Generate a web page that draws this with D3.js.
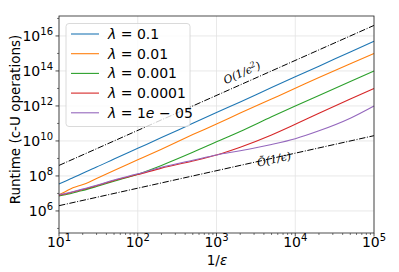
<!DOCTYPE html>
<html>
<head>
<meta charset="utf-8">
<script src="https://cdn.jsdelivr.net/npm/d3@7"></script>
<style>
  body { margin: 0; background: #fff; }
  svg { display: block; }
  text { font-family: "DejaVu Sans", sans-serif; fill: #000; }
</style>
</head>
<body>
<svg id="chart" width="399" height="272"></svg>
<script>
// 1/epsilon sample points
const invEps = [10, 12, 15, 18, 22, 30, 50, 100, 200, 500, 1000, 2000, 5000, 1e4, 2e4, 5e4, 1e5];

// runtime per lambda
const lambdaLabels = ["0.1", "0.01", "0.001", "0.0001", "1e\u2212 05"];
const colors = ["#1f77b4", "#ff7f0e", "#2ca02c", "#d62728", "#9467bd"];
const run01 = [3.5e7, 5.0e7, 7.9e7, 1.15e8, 1.74e8, 3.2e8, 9.3e8, 3.8e9, 1.55e10, 1.02e11, 4.2e11, 1.7e12, 1.12e13, 4.6e13, 1.86e14, 1.23e15, 5.0e15];
const run001 = [8.5e6, 1.26e7, 2.14e7, 2.75e7, 3.7e7, 7.1e7, 2.04e8, 8.3e8, 3.4e9, 2.3e10, 9.3e10, 3.9e11, 2.5e12, 1.02e13, 4.2e13, 2.6e14, 1.0e15];
const run0001 = [7.1e6, 8.5e6, 1.07e7, 1.32e7, 1.66e7, 2.5e7, 5.0e7, 1.26e8, 4.0e8, 2.24e9, 8.9e9, 3.5e10, 2.4e11, 1.0e12, 4.0e12, 2.5e13, 1.0e14];
const run00001 = [7.9e6, 9.3e6, 1.2e7, 1.48e7, 1.86e7, 2.75e7, 5.5e7, 1.2e8, 2.8e8, 7.1e8, 1.58e9, 4.4e9, 2.2e10, 8.9e10, 3.8e11, 2.5e12, 1.0e13];
const run1e5 = [8.5e6, 1.0e7, 1.26e7, 1.58e7, 2.0e7, 2.95e7, 5.9e7, 1.32e8, 3.16e8, 7.9e8, 1.58e9, 2.75e9, 6.3e9, 1.35e10, 3.8e10, 2.0e11, 1.0e12];

// reference scalings
const guideX = [10, 1e5];
const guideSq = [4.0e8, 4.0e16];
const guideLin = [2.0e6, 2.0e10];

const xTicks = [1e1, 1e2, 1e3, 1e4, 1e5];
const yTicks = [1e6, 1e8, 1e10, 1e12, 1e14, 1e16];

const series = [run01, run001, run0001, run00001, run1e5];

const svg = d3.select("#chart");
const m = {left: 59, right: 374, top: 16, bottom: 233};

const x = d3.scaleLog().domain([10, 1e5]).range([m.left, m.right]);
const y = d3.scaleLog().domain([Math.pow(10, 4.74), Math.pow(10, 17.14)]).range([m.bottom, m.top]);

// grid
const grid = svg.append("g");
grid.selectAll("line.gx").data(xTicks).join("line")
    .attr("x1", d => x(d)).attr("x2", d => x(d))
    .attr("y1", m.top).attr("y2", m.bottom)
    .attr("stroke", "#e3e3e3").attr("stroke-width", 0.8);
grid.selectAll("line.gy").data(yTicks).join("line")
    .attr("y1", d => y(d)).attr("y2", d => y(d))
    .attr("x1", m.left).attr("x2", m.right)
    .attr("stroke", "#e3e3e3").attr("stroke-width", 0.8);

const line = d3.line()
    .x((d, i) => x(invEps[i]))
    .y(d => y(d))
    .curve(d3.curveMonotoneX);

const plot = svg.append("g");

// guide lines (dash-dot)
const guide = d3.line().x((d, i) => x(guideX[i])).y(d => y(d));
[guideSq, guideLin].forEach(g => {
    plot.append("path")
        .attr("d", guide(g))
        .attr("fill", "none")
        .attr("stroke", "#000")
        .attr("stroke-width", 1)
        .attr("stroke-dasharray", "6.4,1.6,1,1.6");
});

series.forEach((s, i) => {
    plot.append("path")
        .attr("d", line(s))
        .attr("fill", "none")
        .attr("stroke", colors[i])
        .attr("stroke-width", 1.1);
});

// annotations
const annot = (xv, yv, slopeDec, label) => {
    const dx = x(xv * 10) - x(xv);
    const dy = y(yv * Math.pow(10, slopeDec)) - y(yv);
    const ang = Math.atan2(dy, dx) * 180 / Math.PI;
    svg.append("text")
        .attr("transform", `translate(${x(xv)},${y(yv)}) rotate(${ang})`)
        .attr("text-anchor", "middle")
        .style("font-family", "'DejaVu Serif', serif")
        .style("font-style", "italic")
        .style("font-size", "11px")
        .html(label);
};
annot(2200, 5e13, 2, "O(1/\u03f5<tspan dy='-4' font-size='8px'>2</tspan><tspan dy='4'>)</tspan>");
annot(5500, 5.5e8, 1, "\u00d5(1/\u03f5)");

// axes spines
svg.append("rect")
    .attr("x", m.left).attr("y", m.top)
    .attr("width", m.right - m.left).attr("height", m.bottom - m.top)
    .attr("fill", "none").attr("stroke", "#222").attr("stroke-width", 0.8);

// x ticks
const xMinor = [];
for (let e = 1; e < 5; e++) for (let k = 2; k <= 9; k++) xMinor.push(k * Math.pow(10, e));
svg.append("g").selectAll("line").data(xMinor).join("line")
    .attr("x1", d => x(d)).attr("x2", d => x(d))
    .attr("y1", m.bottom).attr("y2", m.bottom + 2)
    .attr("stroke", "#222").attr("stroke-width", 0.6);
svg.append("g").selectAll("line").data(xTicks).join("line")
    .attr("x1", d => x(d)).attr("x2", d => x(d))
    .attr("y1", m.bottom).attr("y2", m.bottom + 3.5)
    .attr("stroke", "#222").attr("stroke-width", 0.8);
const xl = svg.append("g").selectAll("text").data(xTicks).join("text")
    .attr("x", d => x(d)).attr("y", 247)
    .attr("text-anchor", "middle")
    .style("font-size", "14px");
xl.append("tspan").text("10");
xl.append("tspan").attr("dy", -6).style("font-size", "10px").text(d => Math.round(Math.log10(d)));

// y ticks
const yMinor = [1e5, 1e7, 1e9, 1e11, 1e13, 1e15, 1e17];
svg.append("g").selectAll("line").data(yMinor).join("line")
    .attr("y1", d => y(d)).attr("y2", d => y(d))
    .attr("x1", m.left).attr("x2", m.left - 2)
    .attr("stroke", "#222").attr("stroke-width", 0.6);
svg.append("g").selectAll("line").data(yTicks).join("line")
    .attr("y1", d => y(d)).attr("y2", d => y(d))
    .attr("x1", m.left).attr("x2", m.left - 3.5)
    .attr("stroke", "#222").attr("stroke-width", 0.8);
const yl = svg.append("g").selectAll("text").data(yTicks).join("text")
    .attr("x", 53).attr("y", d => y(d) + 5)
    .attr("text-anchor", "end")
    .style("font-size", "14px");
yl.append("tspan").text("10");
yl.append("tspan").attr("dy", -6).style("font-size", "10px").text(d => Math.round(Math.log10(d)));

// axis labels
svg.append("text")
    .attr("x", 217).attr("y", 265)
    .attr("text-anchor", "middle")
    .style("font-size", "13.5px")
    .html("1/<tspan font-style='italic'>\u03b5</tspan>");
svg.append("text")
    .attr("transform", `translate(20,${(m.top + m.bottom) / 2 - 5}) rotate(-90)`)
    .attr("text-anchor", "middle")
    .style("font-size", "13.5px")
    .text("Runtime (c-U operations)");

// legend
const lg = svg.append("g");
lg.append("rect")
    .attr("x", 66).attr("y", 23.5).attr("width", 124).attr("height", 103)
    .attr("rx", 3)
    .attr("fill", "#fff").attr("fill-opacity", 0.8)
    .attr("stroke", "#d0d0d0").attr("stroke-width", 0.8);
lambdaLabels.forEach((lab, i) => {
    const yy = 34 + i * 19.7;
    lg.append("line")
        .attr("x1", 71).attr("x2", 99).attr("y1", yy).attr("y2", yy)
        .attr("stroke", colors[i]).attr("stroke-width", 1.1);
    const t = lg.append("text").attr("x", 108).attr("y", yy + 5).style("font-size", "14px");
    t.append("tspan").style("font-style", "italic").text("\u03bb");
    t.append("tspan").text(" = ");
    if (lab.startsWith("1e")) {
        t.append("tspan").text("1");
        t.append("tspan").style("font-style", "italic").text("e");
        t.append("tspan").text(" \u2212 05");
    } else {
        t.append("tspan").text(lab);
    }
});
</script>
</body>
</html>
